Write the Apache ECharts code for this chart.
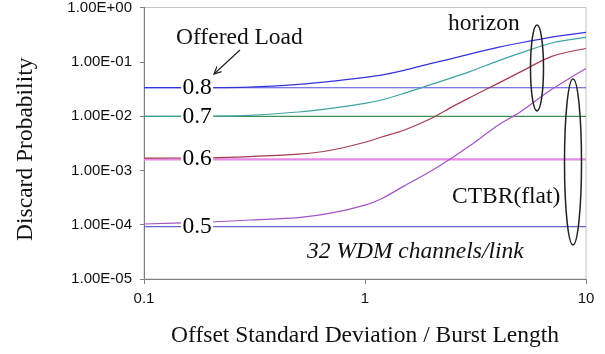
<!DOCTYPE html>
<html>
<head>
<meta charset="utf-8">
<script src="https://cdn.jsdelivr.net/npm/echarts@6/dist/echarts.min.js"></script>
<style>html,body{margin:0;padding:0;background:#fff}#c{width:605px;height:354px}</style>
</head>
<body>
<div id="c"></div>
<script>
// ---- data ----
const xValues   = [0.1, 0.2, 0.3, 0.5, 0.7, 1, 1.2, 1.5, 2, 2.5, 3, 4, 5, 7, 10];
const horizon08 = [0.0334, 0.0335, 0.0343, 0.0385, 0.0436, 0.0517, 0.0574, 0.0695, 0.0935, 0.1155, 0.140, 0.184, 0.222, 0.285, 0.347];
const horizon07 = [0.0099, 0.0100, 0.0103, 0.0119, 0.0139, 0.0172, 0.0200, 0.0262, 0.0384, 0.0517, 0.0666, 0.104, 0.143, 0.222, 0.281];
const horizon06 = [0.00168, 0.00171, 0.0018, 0.00199, 0.00235, 0.0033, 0.00416, 0.00548, 0.0091, 0.0151, 0.0222, 0.0401, 0.0638, 0.126, 0.176];
const horizon05 = [1.03e-4, 1.12e-4, 1.22e-4, 1.35e-4, 1.63e-4, 2.29e-4, 3.08e-4, 5.13e-4, 9.86e-4, 1.75e-3, 2.90e-3, 6.78e-3, 0.0117, 0.0311, 0.0756];
const loads     = ['0.8', '0.7', '0.6', '0.5'];
const ctbrFlat  = [0.0333, 0.0099, 0.0016, 9.2e-5];
const xRange    = [0.1, 10];
const yRange    = [1e-5, 1];
const labelX    = 0.174;
const yTickLabel = e => '1.00E' + (e < 0 ? '-' : '+') + String(Math.abs(e)).padStart(2, '0');

const SERIF = "'Liberation Serif', 'Times New Roman', serif";
const SANS = "'Liberation Sans', Arial, sans-serif";
const BIG = 23.5;

const horizonData = [horizon08, horizon07, horizon06, horizon05];
const horizonColors = ['#3434dc', '#3fa3a3', '#a53b4b', '#a452c4'];
const flatColors = ['#5050e0', '#3f8f50', '#e68ae6', '#6464cc'];
const flatWidths = [1.2, 1.2, 2.2, 1.4];

const series = [];
loads.forEach((ld, i) => {
  series.push({
    type: 'line', name: 'CTBR ' + ld, symbol: 'none', z: 2,
    data: xRange.map(x => [x, ctbrFlat[i]]),
    lineStyle: { color: flatColors[i], width: flatWidths[i] }
  });
});
loads.forEach((ld, i) => {
  series.push({
    type: 'line', name: 'horizon ' + ld, symbol: 'none', smooth: 0.3, z: 3,
    data: xValues.map((x, j) => [x, horizonData[i][j]]),
    lineStyle: { color: horizonColors[i], width: 1.2 },
    markPoint: {
      z: 10, silent: true,
      symbol: 'rect', symbolSize: [32, 18],
      itemStyle: { color: '#fff' },
      label: { show: true, position: 'inside', color: '#000', fontFamily: SERIF, fontSize: BIG,
               formatter: () => ld },
      data: [{ coord: [labelX, ctbrFlat[i]] }]
    }
  });
});

// arrow for "Offered Load"
const a0 = [240, 50], a1 = [214, 74];
const dx = a0[0] - a1[0], dy = a0[1] - a1[1], L = Math.hypot(dx, dy);
const ux = dx / L, uy = dy / L, ah = 8, ang = 0.45;
const rot = (c, s) => [a1[0] + ah * (ux * c - uy * s), a1[1] + ah * (ux * s + uy * c)];
const head1 = rot(Math.cos(ang), Math.sin(ang)), head2 = rot(Math.cos(-ang), Math.sin(-ang));

const chart = echarts.init(document.getElementById('c'), null, { renderer: 'canvas' });
chart.setOption({
  animation: false,
  backgroundColor: '#fff',
  grid: { left: 144, right: 19, top: 7, bottom: 75, show: true, borderColor: '#c4c4c4', borderWidth: 1 },
  xAxis: {
    type: 'log', logBase: 10, min: xRange[0], max: xRange[1],
    name: 'Offset Standard Deviation / Burst Length', nameLocation: 'middle', nameGap: 45,
    nameTextStyle: { fontFamily: SERIF, fontSize: BIG, color: '#111' },
    axisLine: { lineStyle: { color: '#808080', width: 1 } },
    axisTick: { show: true, length: 5, lineStyle: { color: '#808080' } },
    minorTick: { show: false },
    splitLine: { show: false },
    axisLabel: { fontFamily: SANS, fontSize: 15, color: '#111', margin: 12,
                 formatter: v => String(+Number(v).toPrecision(2)) }
  },
  yAxis: {
    type: 'log', logBase: 10, min: yRange[0], max: yRange[1],
    name: 'Discard Probability', nameLocation: 'middle', nameGap: 106, nameRotate: 90,
    nameTextStyle: { fontFamily: SERIF, fontSize: BIG, color: '#111', padding: [0, 12, 0, 0] },
    axisLine: { show: true, lineStyle: { color: '#808080', width: 1 } },
    axisTick: { show: true, length: 4, lineStyle: { color: '#808080' } },
    splitLine: { show: false },
    axisLabel: { fontFamily: SANS, fontSize: 15, color: '#111', margin: 12,
                 formatter: v => yTickLabel(Math.round(Math.log10(v))) }
  },
  series: series,
  graphic: [
    { type: 'text', left: 176, top: 26, z: 20, style: { text: 'Offered Load', font: BIG + 'px ' + SERIF, fill: '#111' } },
    { type: 'line', z: 20, shape: { x1: a0[0], y1: a0[1], x2: a1[0], y2: a1[1] }, style: { stroke: '#222', lineWidth: 1.2 } },
    { type: 'polyline', z: 20, shape: { points: [head1, a1, head2] }, style: { stroke: '#222', lineWidth: 1.2, fill: null } },
    { type: 'text', left: 448, top: 12, z: 20, style: { text: 'horizon', font: BIG + 'px ' + SERIF, fill: '#111' } },
    { type: 'text', left: 452, top: 185, z: 20, style: { text: 'CTBR(flat)', font: BIG + 'px ' + SERIF, fill: '#111' } },
    { type: 'text', left: 307, top: 240, z: 20, style: { text: '32 WDM channels/link', font: 'italic ' + BIG + 'px ' + SERIF, fill: '#111' } },
    { type: 'ellipse', z: 20, shape: { cx: 537, cy: 68, rx: 6.5, ry: 43 }, style: { stroke: '#222', lineWidth: 1.5, fill: null } },
    { type: 'ellipse', z: 20, shape: { cx: 573, cy: 162, rx: 8.5, ry: 83 }, style: { stroke: '#222', lineWidth: 1.5, fill: null } }
  ]
});
</script>
</body>
</html>
